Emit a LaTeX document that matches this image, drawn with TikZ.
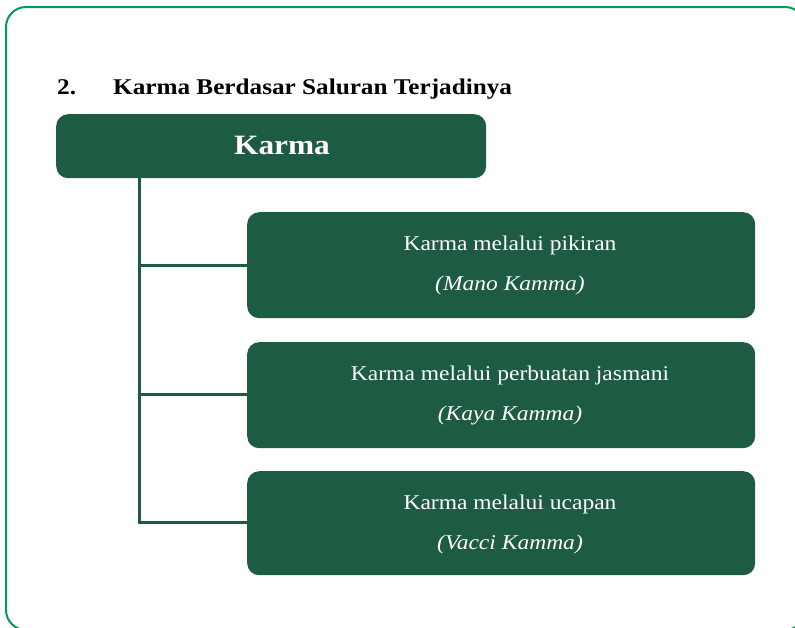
\documentclass[tikz,border=0pt]{standalone}
\usepackage{fontspec}
\setmainfont[FakeStretch=1.12]{Liberation Serif}
\definecolor{dgreen}{HTML}{1E5B43}
\definecolor{bgreen}{HTML}{079A55}
\begin{document}
\begin{tikzpicture}[x=1pt,y=-1pt,
  box/.style={fill=dgreen,draw=none,rounded corners=12pt,inner sep=0pt,anchor=north west},
  conn/.style={draw=dgreen,line width=3pt},
  wtext/.style={text=white,inner sep=0pt,anchor=base},
  boxtext/.style={wtext,font=\fontsize{21}{24}\selectfont},
  ititle/.style={wtext,font=\fontsize{21}{24}\selectfont\itshape},
  head/.style={inner sep=0pt,anchor=base west,font=\fontsize{22.5}{26}\selectfont\bfseries}]
\useasboundingbox (0,0) rectangle (795,627);
\draw[bgreen,line width=2pt,rounded corners=20pt] (6,7) rectangle (805,630);
\node[head] (num) at (57,94) {2.};
\node[head] (title) at (113,94) {Karma Berdasar Saluran Terjadinya};
\node[box,minimum width=430pt,minimum height=64pt] (karma) at (56,114) {};
\node[wtext,font=\fontsize{28}{32}\selectfont\bfseries] (karmat) at (282,154) {Karma};
\node[box,minimum width=508pt,minimum height=106pt] (c1) at (247,212) {};
\node[box,minimum width=508pt,minimum height=106pt] (c2) at (247,342) {};
\node[box,minimum width=508pt,minimum height=104pt] (c3) at (247,471) {};
\node[boxtext] (t1a) at (510,250) {Karma melalui pikiran};
\node[ititle] (t1b) at (510,290) {(Mano Kamma)};
\node[boxtext] (t2a) at (510,380) {Karma melalui perbuatan jasmani};
\node[ititle] (t2b) at (510,420) {(Kaya Kamma)};
\node[boxtext] (t3a) at (510,509) {Karma melalui ucapan};
\node[ititle] (t3b) at (510,549) {(Vacci Kamma)};
\coordinate (sp) at (139,0);
\coordinate (b1) at (0,265);
\coordinate (b2) at (0,394);
\coordinate (b3) at (0,522);
\draw[conn] (karma.south -| sp) -- (sp |- b3) -- (c3.west |- b3);
\draw[conn] (sp |- b1) -- (c1.west |- b1);
\draw[conn] (sp |- b2) -- (c2.west |- b2);
\end{tikzpicture}
\end{document}
